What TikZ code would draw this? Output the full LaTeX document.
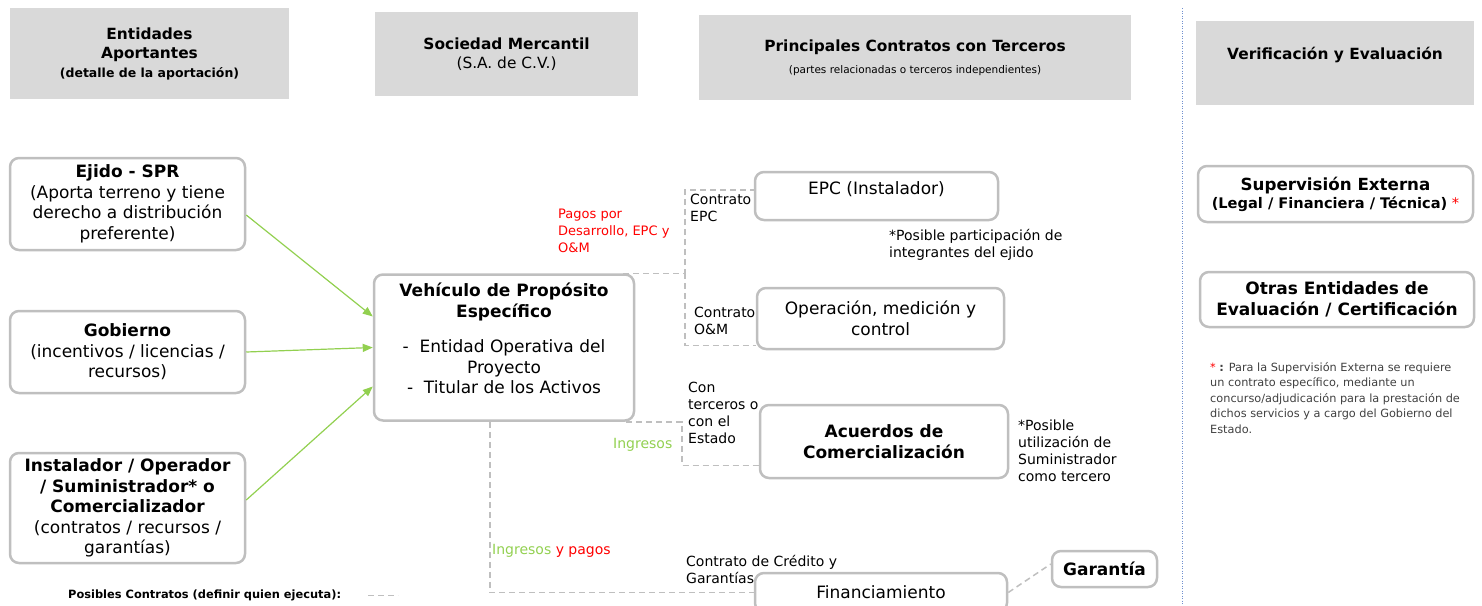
\documentclass[tikz,border=0pt]{standalone}
\usepackage{fontspec}
\setmainfont{DejaVu Sans}
\usetikzlibrary{arrows.meta,calc}
\definecolor{hdrgray}{HTML}{D9D9D9}
\definecolor{boxgray}{HTML}{BFBFBF}
\definecolor{aportegreen}{HTML}{92D050}
\definecolor{pagored}{HTML}{FF0000}
\definecolor{sepblue}{HTML}{6F8FCF}
\definecolor{notegray}{HTML}{404040}

\begin{document}
\begin{tikzpicture}[x=1pt,y=-1pt,
        hdr/.style={fill=hdrgray, inner sep=0pt, align=center, font=\fontsize{15.4}{19}\selectfont},
        ent/.style={draw=boxgray, line width=2.5pt, rounded corners=9pt, inner sep=0pt, align=center, font=\fontsize{17}{20.5}\selectfont},
        bajo/.style={execute at begin node={\rule{0pt}{#1}}},
        nota/.style={inner sep=0pt, align=left, anchor=north west, font=\fontsize{14}{17}\selectfont},
        contrato/.style={draw=boxgray, line width=1.5pt, dash pattern=on 6pt off 4pt},
        aporte/.style={draw=aportegreen, line width=1.2pt, -{Triangle[length=10pt,width=8pt]}}]
        \useasboundingbox (0,0) rectangle (1482,605);

        \node[hdr, minimum width=279pt, minimum height=91pt, bajo=26pt] (apor) at (149.5,53.5) {\textbf{Entidades}\\\textbf{Aportantes}\\{\fontsize{12.5}{14}\selectfont\textbf{(detalle de la aportación)}}};
        \node[hdr, minimum width=263pt, minimum height=84pt] (soc) at (506.5,54) {\textbf{Sociedad Mercantil}\\(S.A. de C.V.)};
        \node[hdr, minimum width=432pt, minimum height=85pt] (terc) at (915,57.5) {\textbf{Principales Contratos con Terceros}\\[3pt]{\fontsize{10.5}{12}\selectfont(partes relacionadas o terceros independientes)}};
        \node[hdr, minimum width=278pt, minimum height=84pt] (verif) at (1335,63) {\textbf{Verificación y Evaluación}\\[1pt]\mbox{}};

        \draw[sepblue, line width=0.9pt, dash pattern=on 1pt off 1.5pt] (1182,8) -- (1182,605);

        \node[ent, bajo=25pt, minimum width=235pt, minimum height=92pt] (ejido) at (127.5,204) {\textbf{Ejido - SPR}\\(Aporta terreno y tiene\\derecho a distribución\\preferente)};
        \node[ent, bajo=25pt, minimum width=235pt, minimum height=82pt] (gob) at (127.5,352) {\textbf{Gobierno}\\(incentivos / licencias /\\recursos)};
        \node[ent, bajo=38pt, minimum width=235pt, minimum height=110pt] (inst) at (127.5,508) {\textbf{Instalador / Operador}\\\textbf{/ Suministrador* o}\\\textbf{Comercializador}\\(contratos / recursos /\\garantías)};

        \node[ent, minimum width=260pt, minimum height=146pt] (vpe) at (504,347.5) {\textbf{Vehículo de Propósito}\\\textbf{Específico}\\[15pt]-\ \ Entidad Operativa del\\Proyecto\\-\ \ Titular de los Activos\\[-2pt]\mbox{}};

        \node[ent, minimum width=243pt, minimum height=48pt] (epc) at (876.5,196) {EPC (Instalador)\\[-4pt]\mbox{}};
        \node[ent, minimum width=247pt, minimum height=61pt] (oym) at (880.5,318.5) {Operación, medición y\\control};
        \node[ent, minimum width=248pt, minimum height=73pt] (acu) at (884,441.5) {\textbf{Acuerdos de}\\\textbf{Comercialización}};
        \node[ent, minimum width=252pt, minimum height=39pt] (fin) at (881,592.5) {Financiamiento};
        \node[ent, minimum width=105pt, minimum height=36pt] (gar) at (1104.5,569) {\textbf{Garantía}};

        \node[ent, minimum width=275pt, minimum height=56pt, font=\fontsize{16.7}{18}\selectfont] (sup) at (1335.5,194) {\textbf{Supervisión Externa}\\{\fontsize{14.6}{16}\selectfont\textbf{(Legal / Financiera / Técnica)} \textcolor{pagored}{*}}};
        \node[ent, minimum width=274pt, minimum height=55pt] (otras) at (1337,299.5) {\textbf{Otras Entidades de}\\\textbf{Evaluación / Certificación}};

        \draw[aporte] ([yshift=-11pt]ejido.east) -- ([yshift=31pt]vpe.west);
        \draw[aporte] (gob.east) -- (vpe.west);
        \draw[aporte] ([yshift=8pt]inst.east) -- ([yshift=-39pt]vpe.west);

        \coordinate (cEPC) at (685,0);
        \coordinate (cCom) at (682,0);
        \draw[contrato] ([xshift=-12pt]vpe.north east) -- (cEPC |- vpe.north east) |- ([yshift=6pt]epc.west);
        \draw[contrato] (cEPC |- vpe.north east) |- ([yshift=-27pt]oym.west);
        \draw[contrato] ([xshift=-9pt]vpe.south east) -- (cCom |- vpe.south east) |- ([yshift=-24pt]acu.west);
        \draw[contrato] ([xshift=-14pt]vpe.south) |- (fin.west);
        \draw[contrato] (fin.east) -- ([yshift=5pt]gar.west);

        \node[nota, font=\fontsize{13}{17}\selectfont, text=pagored] (pagos) at (558,209) {Pagos por\\Desarrollo, EPC y\\O\&M};
        \node[nota] (tEPC) at (690,194) {Contrato\\EPC};
        \node[nota] (tOyM) at (694,307) {Contrato\\O\&M};
        \node[nota] (partic) at (889,229) {*Posible participación de\\integrantes del ejido};
        \node[nota] (tCom) at (688,382) {Con\\terceros o\\con el\\Estado};
        \node[nota, anchor=west, text=aportegreen] (ingr) at (613,445) {Ingresos};
        \node[nota] (sumin) at (1018,420) {*Posible\\utilización de\\Suministrador\\como tercero};
        \node[nota, anchor=west] (ingpag) at (492,551) {\textcolor{aportegreen}{Ingresos} \textcolor{pagored}{y pagos}};
        \node[nota] (tFin) at (686,555) {Contrato de Crédito y\\Garantías};

        \node[nota, text=notegray, font=\fontsize{11.3}{15.5}\selectfont] (aster) at (1210,362) {\textcolor{pagored}{*} \textbf{:} Para la Supervisión Externa se requiere\\un contrato específico, mediante un\\concurso/adjudicación para la prestación de\\dichos servicios y a cargo del Gobierno del\\Estado.};

        \node[inner sep=0pt, anchor=west, font=\fontsize{11.4}{12}\selectfont\bfseries] (leyenda) at (68,595) {Posibles Contratos (definir quien ejecuta):};
        \draw[contrato, line width=1pt] ([xshift=27pt]leyenda.east) -- ++(30,0);
      \end{tikzpicture}
\end{document}
